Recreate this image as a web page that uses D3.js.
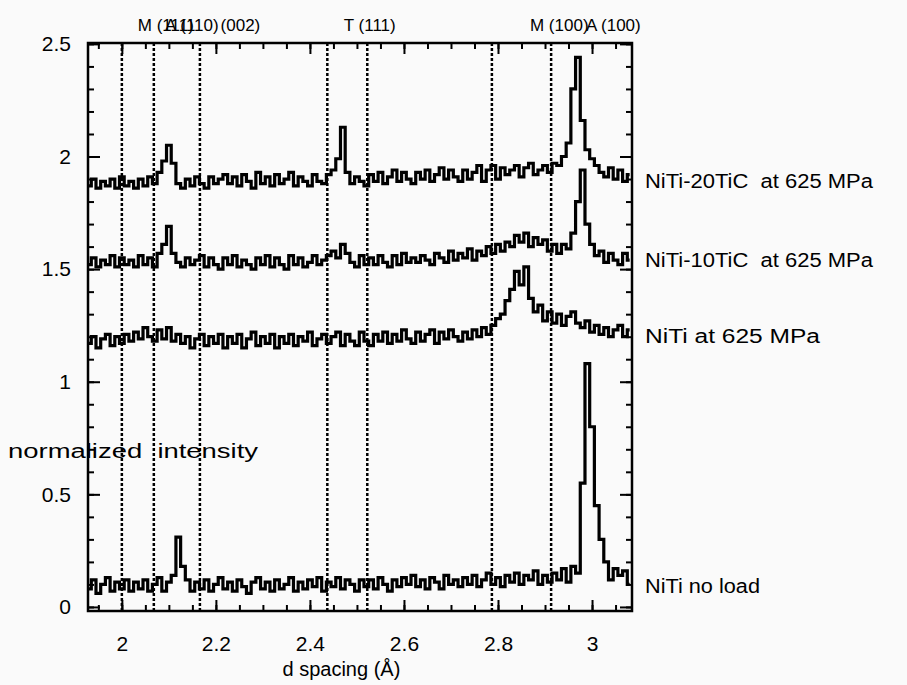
<!DOCTYPE html>
<html>
<head>
<meta charset="utf-8">
<script src="https://cdn.jsdelivr.net/npm/d3@7"></script>
<style>
  body { margin: 0; background: #fafafa; }
  text { font-family: Arial, "Liberation Sans", sans-serif; fill: #000; }
</style>
</head>
<body>
<svg id="chart" width="907" height="685"></svg>
<script>
// d spacing sampling grid (Å), 1.93 .. 3.08 in 0.01 steps
const dSpacing = d3.range(116).map(i => +(1.93 + i * 0.01).toFixed(2));

// normalized intensity
const noLoad = [
  0.08,0.12,0.06,0.10,0.13,0.07,0.11,0.08,0.12,0.07,
  0.11,0.08,0.12,0.07,0.10,0.13,0.07,0.11,0.14,0.31,
  0.18,0.12,0.07,0.11,0.08,0.12,0.07,0.10,0.13,0.08,
  0.11,0.07,0.12,0.09,0.06,0.11,0.13,0.08,0.11,0.07,
  0.12,0.08,0.10,0.13,0.07,0.11,0.08,0.12,0.09,0.13,
  0.07,0.11,0.09,0.13,0.08,0.12,0.10,0.07,0.12,0.09,
  0.12,0.08,0.13,0.10,0.07,0.12,0.09,0.13,0.10,0.14,
  0.09,0.12,0.08,0.13,0.11,0.08,0.14,0.10,0.12,0.09,
  0.13,0.10,0.14,0.09,0.12,0.15,0.10,0.13,0.09,0.14,
  0.11,0.15,0.10,0.14,0.12,0.16,0.10,0.14,0.11,0.15,
  0.12,0.17,0.11,0.18,0.15,0.55,1.08,0.80,0.45,0.30,
  0.20,0.12,0.17,0.14,0.16,0.10
];
const niti625 = [
  1.17,1.20,1.15,1.19,1.21,1.16,1.20,1.17,1.21,1.18,
  1.22,1.19,1.24,1.20,1.18,1.23,1.19,1.24,1.18,1.21,
  1.17,1.20,1.15,1.19,1.21,1.16,1.20,1.17,1.21,1.15,
  1.20,1.17,1.21,1.15,1.19,1.22,1.16,1.20,1.17,1.21,
  1.15,1.20,1.17,1.21,1.16,1.20,1.18,1.22,1.16,1.19,
  1.21,1.17,1.20,1.22,1.16,1.21,1.18,1.16,1.22,1.18,
  1.16,1.21,1.18,1.22,1.17,1.21,1.18,1.23,1.19,1.17,
  1.22,1.18,1.21,1.23,1.17,1.22,1.19,1.23,1.20,1.18,
  1.22,1.19,1.23,1.20,1.24,1.21,1.25,1.28,1.30,1.36,
  1.41,1.49,1.43,1.51,1.37,1.31,1.34,1.27,1.31,1.26,
  1.30,1.25,1.29,1.31,1.26,1.24,1.27,1.22,1.25,1.21,
  1.24,1.20,1.23,1.25,1.20,1.23
];
const tic10 = [
  1.52,1.55,1.51,1.54,1.52,1.56,1.51,1.55,1.52,1.54,
  1.51,1.56,1.52,1.55,1.51,1.57,1.61,1.69,1.57,1.53,
  1.51,1.55,1.52,1.54,1.56,1.51,1.55,1.52,1.50,1.55,
  1.52,1.56,1.51,1.54,1.52,1.50,1.55,1.52,1.56,1.51,
  1.55,1.52,1.50,1.56,1.52,1.55,1.51,1.53,1.56,1.52,
  1.54,1.56,1.58,1.55,1.61,1.57,1.53,1.51,1.56,1.52,
  1.55,1.52,1.56,1.53,1.51,1.56,1.52,1.57,1.53,1.55,
  1.53,1.56,1.54,1.52,1.57,1.55,1.53,1.58,1.54,1.57,
  1.55,1.59,1.54,1.58,1.56,1.60,1.57,1.61,1.58,1.62,
  1.60,1.65,1.62,1.66,1.60,1.64,1.61,1.63,1.58,1.61,
  1.57,1.61,1.59,1.66,1.80,1.94,1.70,1.61,1.56,1.58,
  1.53,1.57,1.54,1.52,1.57,1.54
];
const tic20 = [
  1.87,1.90,1.86,1.89,1.87,1.90,1.86,1.91,1.87,1.89,
  1.86,1.90,1.87,1.91,1.88,1.93,1.98,2.05,1.97,1.88,
  1.86,1.90,1.87,1.91,1.88,1.86,1.91,1.88,1.90,1.92,
  1.88,1.91,1.87,1.92,1.89,1.86,1.93,1.88,1.91,1.87,
  1.92,1.88,1.90,1.93,1.87,1.91,1.89,1.87,1.92,1.89,
  1.88,1.92,1.94,1.99,2.13,1.93,1.88,1.91,1.89,1.87,
  1.92,1.89,1.93,1.88,1.91,1.94,1.89,1.93,1.90,1.88,
  1.93,1.90,1.94,1.89,1.92,1.95,1.90,1.94,1.91,1.89,
  1.94,1.90,1.93,1.96,1.89,1.94,1.96,1.90,1.95,1.92,
  1.94,1.96,1.91,1.95,1.97,1.92,1.94,1.96,1.93,1.97,
  1.96,2.00,2.06,2.30,2.44,2.16,2.03,1.99,1.96,1.93,
  1.91,1.95,1.90,1.94,1.89,1.92
];

const seriesNames = ['NiTi-20TiC  at 625 MPa', 'NiTi-10TiC  at 625 MPa', 'NiTi at 625 MPa', 'NiTi no load'];
const seriesValues = [tic20, tic10, niti625, noLoad];
const labelLevels = [1.86, 1.51, 1.17, 0.06];

// reference peak positions (dashed lines) and their labels
const refLines = [2.0, 2.068, 2.166, 2.437, 2.522, 2.787, 2.913];
const peakLabels = ['M (111)', 'A (110)', '(002)', 'T (111)', 'M (100)', 'A (100)'];
const peakLabelAt = [2.034, 2.092, 2.21, 2.472, 2.868, 2.987];

const xTicks = [2, 2.2, 2.4, 2.6, 2.8, 3];
const yTicks = [0, 0.5, 1, 1.5, 2, 2.5];

// widths the scanned labels take up
const seriesLabelWidth = [228, 228, 175, 115];

const margin = { top: 43, right: 275, bottom: 74, left: 88 };
const width = 907 - margin.left - margin.right;
const height = 685 - margin.top - margin.bottom;

const svg = d3.select('#chart');
const g = svg.append('g').attr('transform', `translate(${margin.left},${margin.top})`);

const x = d3.scaleLinear().domain([1.928, 3.085]).range([0, width]);
const y = d3.scaleLinear().domain([-0.018, 2.504]).range([height, 0]);

g.append('clipPath').attr('id', 'plot-clip')
  .append('rect').attr('width', width).attr('height', height);

// dashed reference lines
g.selectAll('.ref-line')
  .data(refLines)
  .enter()
  .append('line')
  .attr('class', 'ref-line')
  .attr('x1', d => x(d)).attr('x2', d => x(d))
  .attr('y1', 0).attr('y2', height)
  .attr('stroke', '#000')
  .attr('stroke-width', 2.5)
  .attr('stroke-dasharray', '3,2');

// spectra
const line = d3.line()
  .x((d, i) => x(dSpacing[i]))
  .y(d => y(d))
  .curve(d3.curveStep);

g.append('g').attr('clip-path', 'url(#plot-clip)')
  .selectAll('path')
  .data(seriesValues)
  .enter()
  .append('path')
  .attr('d', d => line(d))
  .attr('fill', 'none')
  .attr('stroke', '#000')
  .attr('stroke-width', 3.2)
  .attr('stroke-linejoin', 'miter');

// axes: major + minor inward ticks on all four sides
function styleAxis(sel) {
  sel.select('.domain').remove();
  sel.selectAll('line').attr('stroke', '#000').attr('stroke-width', 2);
  sel.selectAll('text').style('font-size', '21px').attr('fill', '#000');
}

const xMinor = d3.range(1.95, 3.0851, 0.05);
const yMinor = d3.range(0, 2.501, 0.1);

g.append('g').attr('transform', `translate(0,${height})`)
  .call(d3.axisBottom(x).tickValues(xMinor).tickSize(-6).tickFormat(''))
  .call(styleAxis);
g.append('g').attr('transform', `translate(0,${height})`)
  .call(d3.axisBottom(x).tickValues(xTicks).tickSize(-11).tickPadding(25).tickFormat(d3.format('')))
  .call(styleAxis);
g.append('g')
  .call(d3.axisTop(x).tickValues(xMinor).tickSize(-6).tickFormat(''))
  .call(styleAxis);
g.append('g')
  .call(d3.axisTop(x).tickValues(xTicks).tickSize(-11).tickFormat(''))
  .call(styleAxis);

g.append('g')
  .call(d3.axisLeft(y).tickValues(yMinor).tickSize(-6).tickFormat(''))
  .call(styleAxis);
g.append('g')
  .call(d3.axisLeft(y).tickValues(yTicks).tickSize(-12).tickPadding(17).tickFormat(d3.format('')))
  .call(styleAxis);
g.append('g').attr('transform', `translate(${width},0)`)
  .call(d3.axisRight(y).tickValues(yMinor).tickSize(-6).tickFormat(''))
  .call(styleAxis);
g.append('g').attr('transform', `translate(${width},0)`)
  .call(d3.axisRight(y).tickValues(yTicks).tickSize(-12).tickFormat(''))
  .call(styleAxis);

// frame
g.append('rect')
  .attr('width', width).attr('height', height)
  .attr('fill', 'none').attr('stroke', '#000').attr('stroke-width', 2.5);

// peak labels above the frame (the first three overlap in the original too)
g.selectAll('.peak-label')
  .data(peakLabels)
  .enter()
  .append('text')
  .attr('class', 'peak-label')
  .attr('x', (d, i) => x(peakLabelAt[i]))
  .attr('y', -12)
  .style('font-size', '17px')
  .text(d => d);

// series labels to the right
g.selectAll('.series-label')
  .data(seriesNames)
  .enter()
  .append('text')
  .attr('class', 'series-label')
  .attr('x', width + 13)
  .attr('y', (d, i) => y(labelLevels[i]))
  .attr('textLength', (d, i) => seriesLabelWidth[i])
  .attr('lengthAdjust', 'spacingAndGlyphs')
  .style('font-size', '20px')
  .style('white-space', 'pre')
  .text(d => d);

// axis titles
svg.append('text')
  .attr('x', 8).attr('y', 458)
  .attr('textLength', 250)
  .attr('lengthAdjust', 'spacingAndGlyphs')
  .style('font-size', '20px')
  .style('white-space', 'pre')
  .text('normalized  intensity');

svg.append('text')
  .attr('x', margin.left + x(2.467)).attr('y', 676)
  .attr('text-anchor', 'middle')
  .style('font-size', '20px')
  .text('d spacing (Å)');
</script>
</body>
</html>
